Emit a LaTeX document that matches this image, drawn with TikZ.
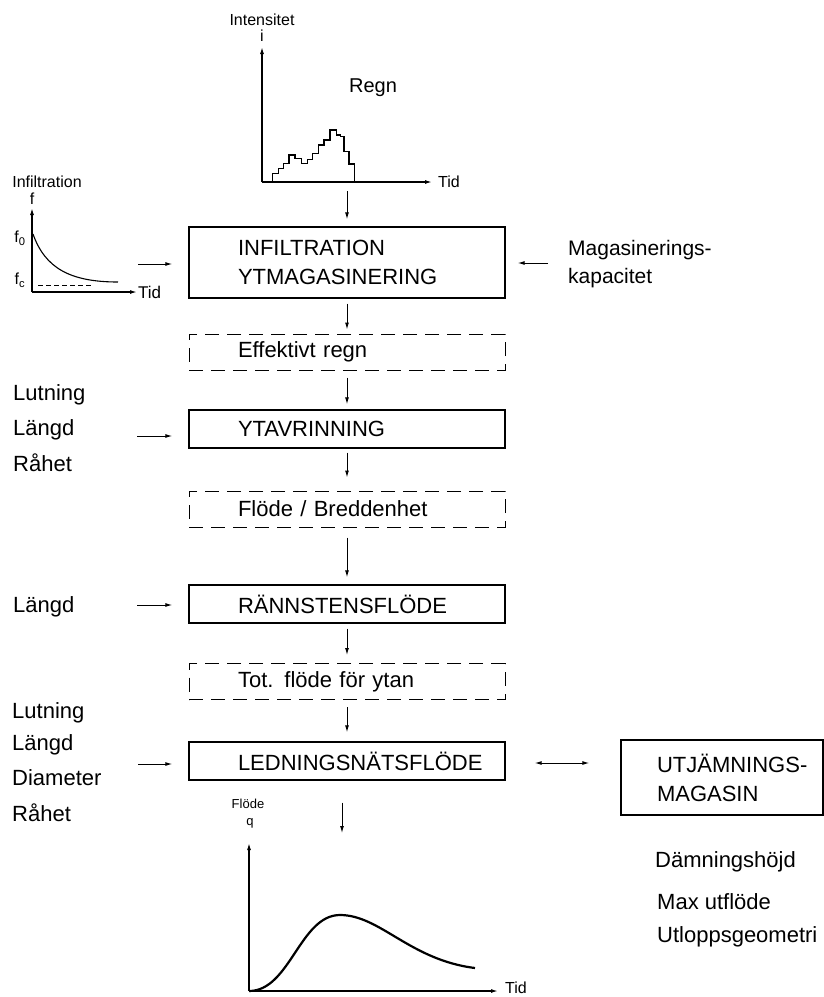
\documentclass[tikz,border=0pt]{standalone}
\usepackage{fontspec}
\setmainfont{Liberation Sans}
\usetikzlibrary{arrows.meta}
\usetikzlibrary{positioning}
\newcommand{\boxfont}{\fontsize{22}{29}\selectfont\hyphenpenalty=10000\relax\exhyphenpenalty=10000\relax}
\tikzstyle{block} = [rectangle, draw=black, line width=1.4pt, inner sep=0pt,
minimum width=316pt, minimum height=38pt, text width=218pt, align=left,
font=\boxfont]
\tikzstyle{result} = [block, line width=1pt, dash pattern=on 14pt off 8pt, minimum height=36pt]
\tikzstyle{param} = [inner sep=0pt, anchor=west, font=\fontsize{22}{28}\selectfont]
\tikzstyle{axlabel} = [inner sep=0pt, font=\fontsize{16}{18}\selectfont]
\tikzstyle{arrow} = [line width=1pt, -{Latex[length=7pt,width=4pt]}]
\tikzstyle{chartaxis} = [line width=1.3pt, -{Latex[length=7pt,width=4pt]}]

\begin{document}
\begin{tikzpicture}[x=1pt, y=-1pt]
\useasboundingbox (0,0) rectangle (824,997);

% rain input
\draw[chartaxis] (262,182) -- (262,47);
\draw[chartaxis] (262,182) -- (432,182);
\draw[line width=1.2pt] (272.7,182.3) |- (278.3,173.3) |- (283.3,168.3) |- (289,163.3)
  |- (295,155) |- (301.7,158.3) |- (307.3,163.3) |- (312.7,159.3) |- (318.3,153.3)
  |- (324,145) |- (330,140) |- (336.7,130) |- (340.7,135) |- (344,136.7)
  |- (349,151.7) |- (354.3,164) -- (354.3,182.3);
\node[axlabel] (inten) at (262,20) {Intensitet};
\node[axlabel, below=4pt of inten] (ii) {i};
\node[axlabel, font=\fontsize{20}{22}\selectfont] (regn) at (373,88) {Regn};
\node[axlabel, anchor=west] (tid1) at (438,182) {Tid};
\coordinate (rainA) at (347,191);

% infiltration curve
\draw[chartaxis] (32,292) -- (32,208);
\draw[chartaxis] (32,292) -- (137,292);
\draw[line width=1.1pt] (33,234) .. controls (45,268) and (70,282) .. (118,282);
\draw[line width=0.9pt, dash pattern=on 5pt off 3pt] (38,285) -- (92,285);
\node[axlabel] (infl) at (47,182) {Infiltration};
\node[axlabel] (ff) at (32,199) {f};
\node[axlabel] (f0) at (20,238) {f\textsubscript{0}};
\node[axlabel] (fc) at (20,280) {f\textsubscript{c}};
\node[axlabel, anchor=west, font=\fontsize{17}{19}\selectfont] (tid2) at (138,292) {Tid};
\coordinate (infA) at (138,264);

% process chain
\node[block, minimum height=71pt] (infil) at (347,262.5) {INFILTRATION\\YTMAGASINERING};
\node[result] (eff) at (347,352) {Effektivt regn};
\node[block] (ytav) at (347,429) {YTAVRINNING};
\node[result] (bredd) at (347,509) {Flöde / Breddenhet};
\node[block] (ranna) at (347,604) {RÄNNSTENSFLÖDE};
\node[result] (tot) at (347,681.5) {Tot. flöde för ytan};
\node[block] (ledn) at (347,761) {LEDNINGSNÄTSFLÖDE};
\node[block, minimum width=202pt, minimum height=75pt, text width=130pt] (utj) at (722,777.5) {UTJÄMNINGS-\\MAGASIN};

% parameters
\node[param, align=left, font=\fontsize{21}{28}\selectfont] (mag) at (568,264) {Magasinerings-\\kapacitet};
\node[param] (lut1) at (13,395) {Lutning};
\node[param] (lan1) at (13,430) {Längd};
\node[param] (rah1) at (13,463) {Råhet};
\node[param] (lan2) at (13,607) {Längd};
\node[param] (lut2) at (12,713) {Lutning};
\node[param] (lan3) at (12,745) {Längd};
\node[param] (dia) at (12,778) {Diameter};
\node[param] (rah2) at (12,813) {Råhet};
\node[param] (damn) at (655,862) {Dämningshöjd};
\node[param] (maxu) at (657,902) {Max utflöde};
\node[param] (utlo) at (657,937) {Utloppsgeometri};
\coordinate (magA) at (548,263);
\coordinate (ytA) at (137,436);
\coordinate (raA) at (137,605);
\coordinate (leA) at (138,764);
\coordinate (ledA) at (534,763);

% outflow hydrograph
\draw[chartaxis] (249,991) -- (249,843);
\draw[chartaxis] (249,991) -- (498,991);
\draw[line width=2.2pt] (249,991) .. controls (290,991) and (300,915) .. (340,915)
  .. controls (380,915) and (410,960) .. (475,968);
\node[axlabel, font=\fontsize{13}{15}\selectfont] (flode) at (248,804) {Flöde};
\node[axlabel, font=\fontsize{13}{15}\selectfont] (qq) at (250,823) {q};
\node[axlabel, anchor=west] (tid3) at (505,988) {Tid};
\coordinate (flowTop) at (342,833);

% connectors
\draw[arrow, shorten >=7pt] (rainA) -- (infil);
\draw[arrow, shorten >=16pt] (infA) -- (infA -| infil.west);
\draw[arrow, shorten >=12pt] (magA) -- (magA -| infil.east);
\draw[arrow, shorten <=5pt, shorten >=4pt] (infil) -- (eff);
\draw[arrow, shorten <=7pt, shorten >=5pt] (eff) -- (ytav);
\draw[arrow, shorten >=16pt] (ytA) -- (ytA -| ytav.west);
\draw[arrow, shorten <=4pt, shorten >=13pt] (ytav) -- (bredd);
\draw[arrow, shorten <=10pt, shorten >=7pt] (bredd) -- (ranna);
\draw[arrow, shorten >=16pt] (raA) -- (raA -| ranna.west);
\draw[arrow, shorten <=5pt, shorten >=8pt] (ranna) -- (tot);
\draw[arrow, shorten <=7pt, shorten >=9pt] (tot) -- (ledn);
\draw[arrow, shorten >=16pt] (leA) -- (leA -| ledn.west);
\draw[arrow, shorten <=22pt] (ledn.south -| flowTop) -- (flowTop);
\draw[arrow, {Latex[length=7pt,width=4pt]}-{Latex[length=7pt,width=4pt]}, shorten <=29pt, shorten >=31pt]
  (ledA -| ledn.east) -- (ledA -| utj.west);
\end{tikzpicture}
\end{document}
